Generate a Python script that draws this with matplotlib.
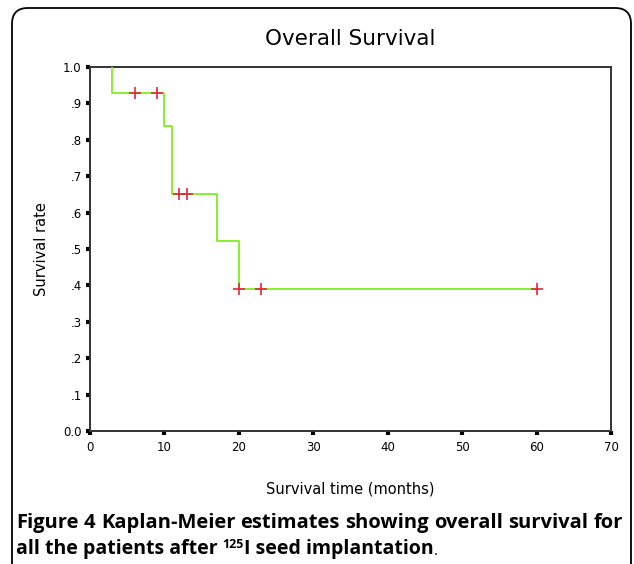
import matplotlib
matplotlib.use("Agg")
import matplotlib.pyplot as plt
from matplotlib.patches import FancyBboxPatch

# Kaplan-Meier step data
step_times = [3, 3, 10, 11, 17, 20, 60]
step_surv = [1.0, 0.929, 0.838, 0.651, 0.522, 0.39, 0.39]
censor_times = [6, 9, 12, 13, 20, 23, 60]
censor_surv = [0.929, 0.929, 0.651, 0.651, 0.39, 0.39, 0.39]

xticks = [0, 10, 20, 30, 40, 50, 60, 70]
yticks = [0.0, 0.1, 0.2, 0.3, 0.4, 0.5, 0.6, 0.7, 0.8, 0.9, 1.0]
ytick_labels = ["0.0", ".1", ".2", ".3", ".4", ".5", ".6", ".7", ".8", ".9", "1.0"]

caption_line1 = "Figure 4 Kaplan-Meier estimates showing overall survival for"
caption_line2a = "all the patients after "
caption_sup = "125"
caption_line2b = "I seed implantation"

W, H = 634, 564
fig = plt.figure(figsize=(W / 100, H / 100), dpi=100)
fig.patch.set_facecolor("white")

# rounded outer frame (open at bottom)
frame = FancyBboxPatch((12 / W, -0.05), (631 - 12) / W, (H - 8) / H + 0.05,
                       boxstyle="round,pad=0,rounding_size=0.025",
                       transform=fig.transFigure, fill=False,
                       edgecolor="black", linewidth=1.3, mutation_aspect=W / H)
fig.patches.append(frame)

ax = fig.add_axes([90 / W, 1 - 431 / H, (611 - 90) / W, (431 - 67) / H])
ax.step(step_times, step_surv, where="post", color="#7cf01c", linewidth=1.3, zorder=3)
ax.plot(censor_times, censor_surv, linestyle="none", marker="+", markersize=8,
        markeredgewidth=1.2, color="#e02838", zorder=4)

ax.set_xlim(0, 70)
ax.set_ylim(0, 1.0)
ax.set_xticks(xticks)
ax.set_xticklabels([str(v) for v in xticks])
ax.set_yticks(yticks)
ax.set_yticklabels(ytick_labels)
for s in ax.spines.values():
    s.set_color("#333333")
    s.set_linewidth(1.4)
ax.tick_params(axis="both", direction="out", length=3, width=3, color="black",
               labelsize=8.5, pad=3)
ax.tick_params(axis="x", pad=4)

ax.set_xlabel("Survival time (months)", fontsize=10.5, labelpad=20)
ax.set_ylabel("Survival rate", fontsize=10.5, labelpad=10)
ax.set_title("Overall Survival", fontsize=15.5, pad=16)

cap_font = dict(fontsize=14, fontweight="bold", family="Open Sans")
renderer = fig.canvas.get_renderer()

# line 1: justified between x=16 and x=623 px
words = caption_line1.split(" ")
y1 = 1 - 523 / H
arts = [fig.text(0, y1, w, va="center", ha="left", fontsize=14.5, fontweight="bold",
                 family="Open Sans") for w in words]
widths = [a.get_window_extent(renderer).width for a in arts]
left, right = 16, 623
gap = (right - left - sum(widths)) / (len(words) - 1)
x = left
for a, wd in zip(arts, widths):
    a.set_x(x / W)
    x += wd + gap

t_a = fig.text(16 / W, 1 - 549 / H, caption_line2a, va="center", ha="left", **cap_font)
t_sup = plt.annotate(caption_sup, xy=(1, 0), xycoords=t_a, xytext=(0, 6), textcoords="offset points",
                     va="bottom", ha="left", fontsize=9, fontweight="bold", family="Open Sans",
                     annotation_clip=False)
t_b = plt.annotate(caption_line2b, xy=(1, 0), xycoords=(t_sup, t_a), xytext=(0, 0),
                   textcoords="offset points", va="bottom", ha="left", annotation_clip=False,
                   **cap_font)
plt.annotate(".", xy=(1, 0), xycoords=t_b, xytext=(0, 0), textcoords="offset points",
             va="bottom", ha="left", fontsize=11, family="Open Sans", annotation_clip=False)

fig.savefig("out.png", dpi=100)
